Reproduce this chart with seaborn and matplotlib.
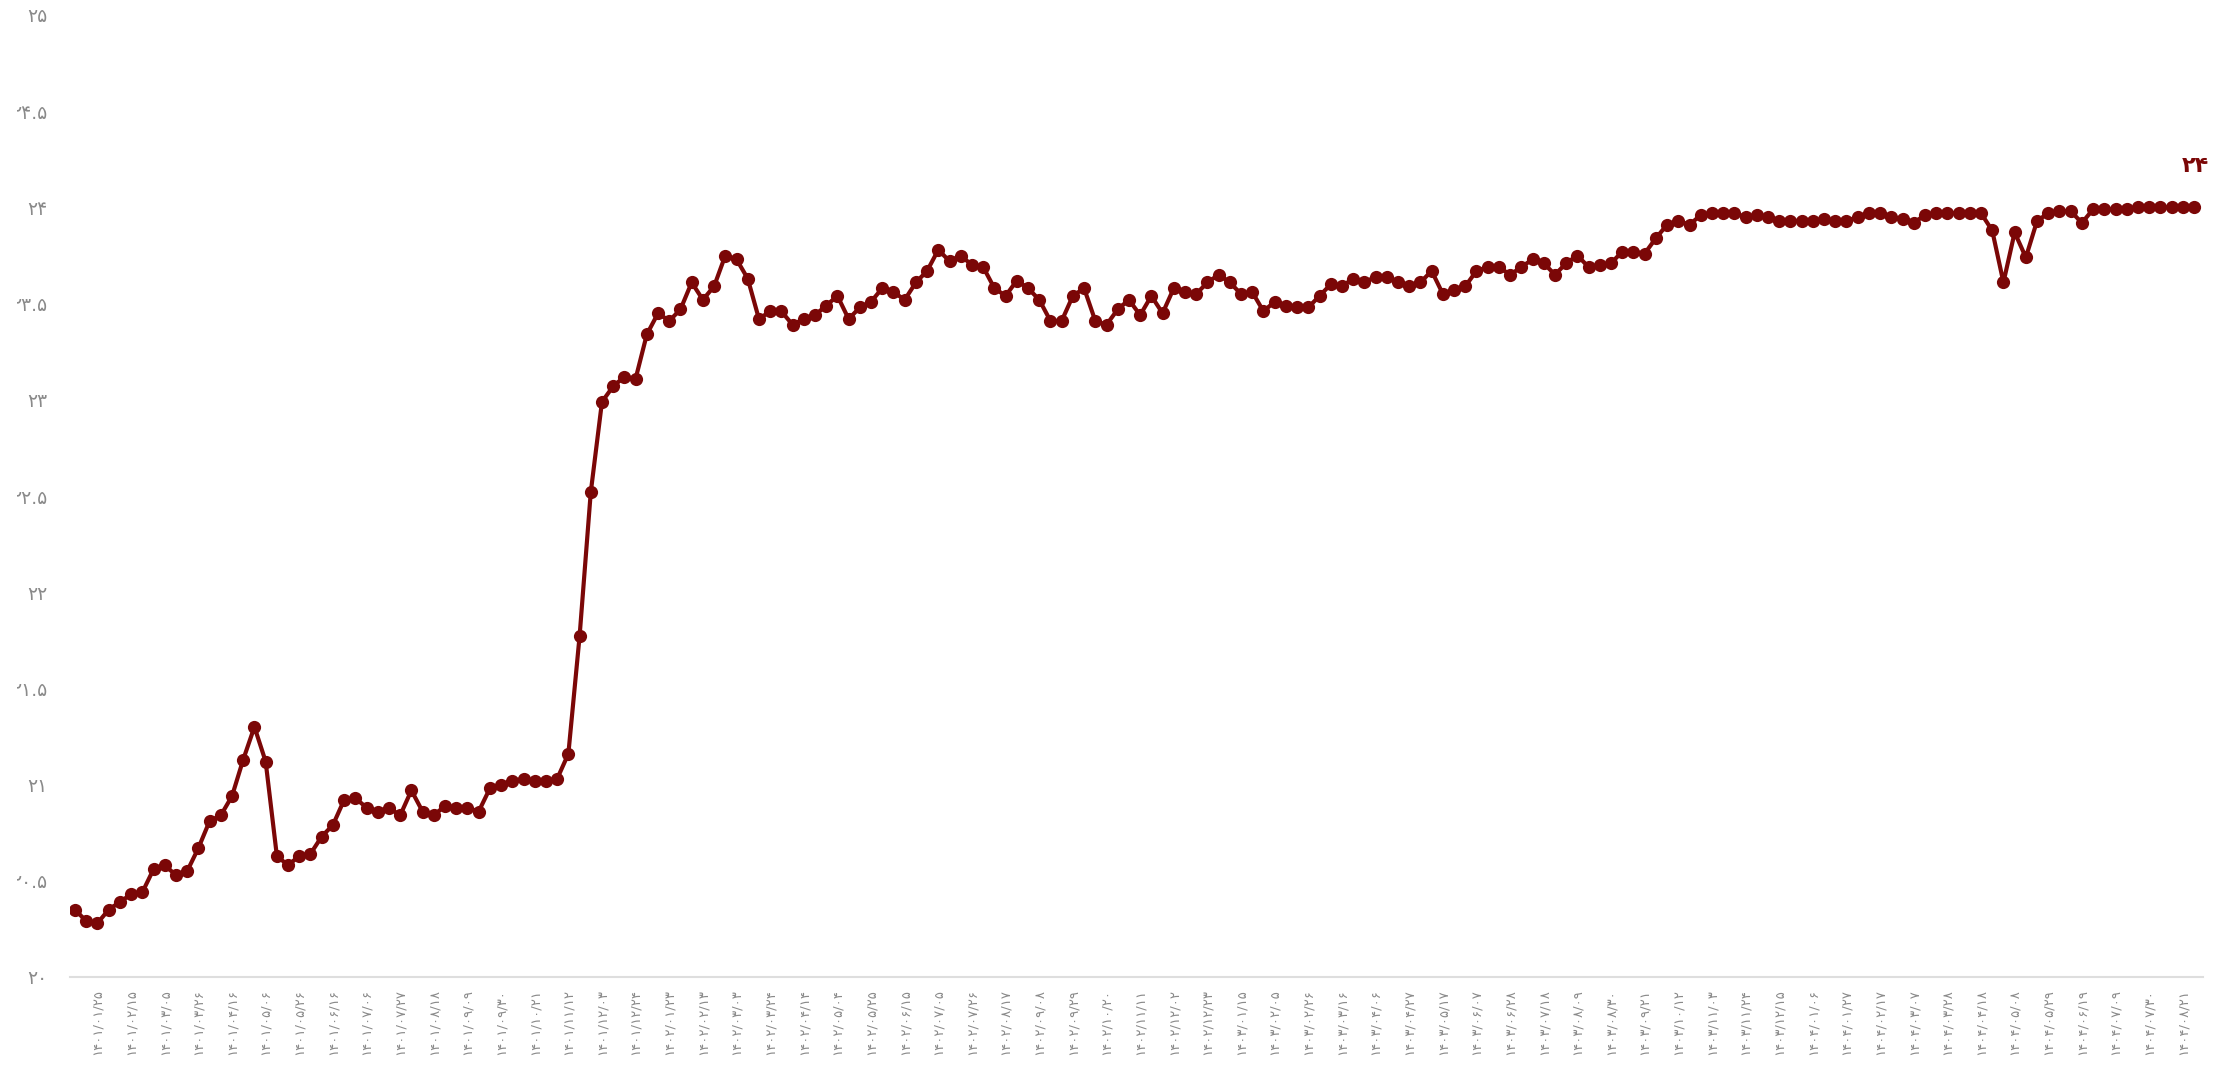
import numpy as np
import pandas as pd
import matplotlib
matplotlib.use("Agg")
import matplotlib.pyplot as plt
import seaborn as sns
from matplotlib.transforms import Bbox, TransformedBbox

# ---------------- data ----------------
values_part1 = [
    20.35, 20.29, 20.28, 20.35, 20.39, 20.43, 20.44, 20.56, 20.58, 20.53,
    20.55, 20.67, 20.81, 20.84, 20.94, 21.13, 21.30, 21.12, 20.63, 20.58,
    20.63, 20.64, 20.73, 20.79, 20.92, 20.93, 20.88, 20.86, 20.88, 20.84,
    20.97, 20.86, 20.84, 20.89, 20.88, 20.88, 20.86, 20.98, 21.00, 21.02,
    21.03, 21.02, 21.02, 21.03, 21.16, 21.77,
]
values_part2 = [
    22.52, 22.99, 23.07, 23.12, 23.11, 23.34, 23.45, 23.41, 23.47, 23.61,
    23.52, 23.59, 23.75, 23.73, 23.63, 23.42, 23.46, 23.46, 23.39, 23.42,
    23.44, 23.49, 23.54, 23.42, 23.48, 23.51, 23.58, 23.56, 23.52, 23.61,
    23.67, 23.78, 23.72, 23.75, 23.70, 23.69, 23.58, 23.54, 23.62, 23.58,
    23.52, 23.41, 23.41, 23.54, 23.58, 23.41, 23.39, 23.47, 23.52, 23.44,
    23.54, 23.45, 23.58, 23.56, 23.55, 23.61, 23.65, 23.61, 23.55,
]
values_part3 = [
    23.56, 23.46, 23.51, 23.49, 23.48, 23.48, 23.54, 23.60, 23.59, 23.63,
    23.61, 23.64, 23.64, 23.61, 23.59, 23.61, 23.67, 23.55, 23.57, 23.59,
    23.67, 23.69, 23.69, 23.65, 23.69, 23.73, 23.71, 23.65, 23.71, 23.75,
    23.69, 23.70, 23.71, 23.77, 23.77, 23.76, 23.84, 23.91, 23.93, 23.91,
    23.96, 23.97, 23.97, 23.97, 23.95, 23.96, 23.95, 23.93, 23.93, 23.93,
]
values_part4 = [
    23.93, 23.94, 23.93, 23.93, 23.95, 23.97, 23.97, 23.95, 23.94, 23.92,
    23.96, 23.97, 23.97, 23.97, 23.97, 23.97, 23.88, 23.61, 23.87, 23.74,
    23.93, 23.97, 23.98, 23.98, 23.92, 23.99, 23.99, 23.99, 23.99, 24.00,
    24.00, 24.00, 24.00, 24.00, 24.00,
]
values = values_part1 + values_part2 + values_part3 + values_part4

x_tick_labels = [
    "۱۴۰۱/۰۱/۲۵", "۱۴۰۱/۰۲/۱۵", "۱۴۰۱/۰۳/۰۵", "۱۴۰۱/۰۳/۲۶", "۱۴۰۱/۰۴/۱۶",
    "۱۴۰۱/۰۵/۰۶", "۱۴۰۱/۰۵/۲۶", "۱۴۰۱/۰۶/۱۶", "۱۴۰۱/۰۷/۰۶", "۱۴۰۱/۰۷/۲۷",
    "۱۴۰۱/۰۸/۱۸", "۱۴۰۱/۰۹/۰۹", "۱۴۰۱/۰۹/۳۰", "۱۴۰۱/۱۰/۲۱", "۱۴۰۱/۱۱/۱۲",
    "۱۴۰۱/۱۲/۰۳", "۱۴۰۱/۱۲/۲۴", "۱۴۰۲/۰۱/۲۳", "۱۴۰۲/۰۲/۱۳", "۱۴۰۲/۰۳/۰۳",
    "۱۴۰۲/۰۳/۲۴", "۱۴۰۲/۰۴/۱۴", "۱۴۰۲/۰۵/۰۴", "۱۴۰۲/۰۵/۲۵", "۱۴۰۲/۰۶/۱۵",
    "۱۴۰۲/۰۷/۰۵", "۱۴۰۲/۰۷/۲۶", "۱۴۰۲/۰۸/۱۷", "۱۴۰۲/۰۹/۰۸", "۱۴۰۲/۰۹/۲۹",
    "۱۴۰۲/۱۰/۲۰", "۱۴۰۲/۱۱/۱۱", "۱۴۰۲/۱۲/۰۲", "۱۴۰۲/۱۲/۲۳", "۱۴۰۳/۰۱/۱۵",
    "۱۴۰۳/۰۲/۰۵", "۱۴۰۳/۰۲/۲۶", "۱۴۰۳/۰۳/۱۶", "۱۴۰۳/۰۴/۰۶", "۱۴۰۳/۰۴/۲۷",
    "۱۴۰۳/۰۵/۱۷", "۱۴۰۳/۰۶/۰۷", "۱۴۰۳/۰۶/۲۸", "۱۴۰۳/۰۷/۱۸", "۱۴۰۳/۰۸/۰۹",
    "۱۴۰۳/۰۸/۳۰", "۱۴۰۳/۰۹/۲۱", "۱۴۰۳/۱۰/۱۲", "۱۴۰۳/۱۱/۰۳", "۱۴۰۳/۱۱/۲۴",
    "۱۴۰۳/۱۲/۱۵", "۱۴۰۴/۰۱/۰۶", "۱۴۰۴/۰۱/۲۷", "۱۴۰۴/۰۲/۱۷", "۱۴۰۴/۰۳/۰۷",
    "۱۴۰۴/۰۳/۲۸", "۱۴۰۴/۰۴/۱۸", "۱۴۰۴/۰۵/۰۸", "۱۴۰۴/۰۵/۲۹", "۱۴۰۴/۰۶/۱۹",
    "۱۴۰۴/۰۷/۰۹", "۱۴۰۴/۰۷/۳۰", "۱۴۰۴/۰۸/۲۱",
]
y_ticks = [20, 20.5, 21, 21.5, 22, 22.5, 23, 23.5, 24, 24.5, 25]
y_tick_labels = ["۲۰", "۲۰.۵", "۲۱", "۲۱.۵", "۲۲", "۲۲.۵", "۲۳", "۲۳.۵", "۲۴", "۲۴.۵", "۲۵"]

# ---------------- style ----------------
LINE = "#7b0707"
GREY = "#8a8a8a"
sns.set_style("white")
plt.rcParams["font.family"] = ["DejaVu Sans"]

W, H = 2232, 1071
fig = plt.figure(figsize=(W / 100, H / 100), dpi=100)
ax = fig.add_axes([70 / W, 1 - 977 / H, (2203 - 70) / W, (977 - 15) / H])

df = pd.DataFrame({"idx": np.arange(len(values)), "value": values})
sns.lineplot(data=df, x="idx", y="value", ax=ax, color=LINE, linewidth=3.0,
             marker="o", markersize=9.5, markeredgewidth=0, markerfacecolor=LINE)

ax.set_xlim(-0.45, len(values) - 0.2)
ax.set_ylim(20, 25)

tick_pos = np.arange(len(x_tick_labels)) * 3 + 2
ax.set_xticks(tick_pos)
ax.set_xticklabels(x_tick_labels, rotation=90, fontsize=9.5, color=GREY)
ax.set_yticks(y_ticks)
ax.set_yticklabels(y_tick_labels, fontsize=13.5, color=GREY)
ax.tick_params(axis="x", length=0, pad=8.5)
ax.tick_params(axis="y", length=0, pad=16.5)
ax.set_xlabel("")
ax.set_ylabel("")
ax.grid(False)
for s in ("left", "right", "top"):
    ax.spines[s].set_visible(False)
ax.spines["bottom"].set_color("#dedede")
ax.spines["bottom"].set_linewidth(1.5)

# the reference cuts the y labels at the left edge
clip = TransformedBbox(Bbox([[17 / W, 0], [1, 1]]), fig.transFigure)
for t in ax.get_yticklabels():
    t.set_clip_box(clip)
    t.set_clip_on(True)

# last value annotation
persian = str.maketrans("0123456789", "۰۱۲۳۴۵۶۷۸۹")
ax.annotate(f"{round(values[-1])}".translate(persian), xy=(len(values) - 1, values[-1]),
            xytext=(1, 30), textcoords="offset points", ha="center", va="center",
            fontsize=16, fontweight="bold", color=LINE)

fig.savefig("out.png", dpi=100, facecolor="white")
